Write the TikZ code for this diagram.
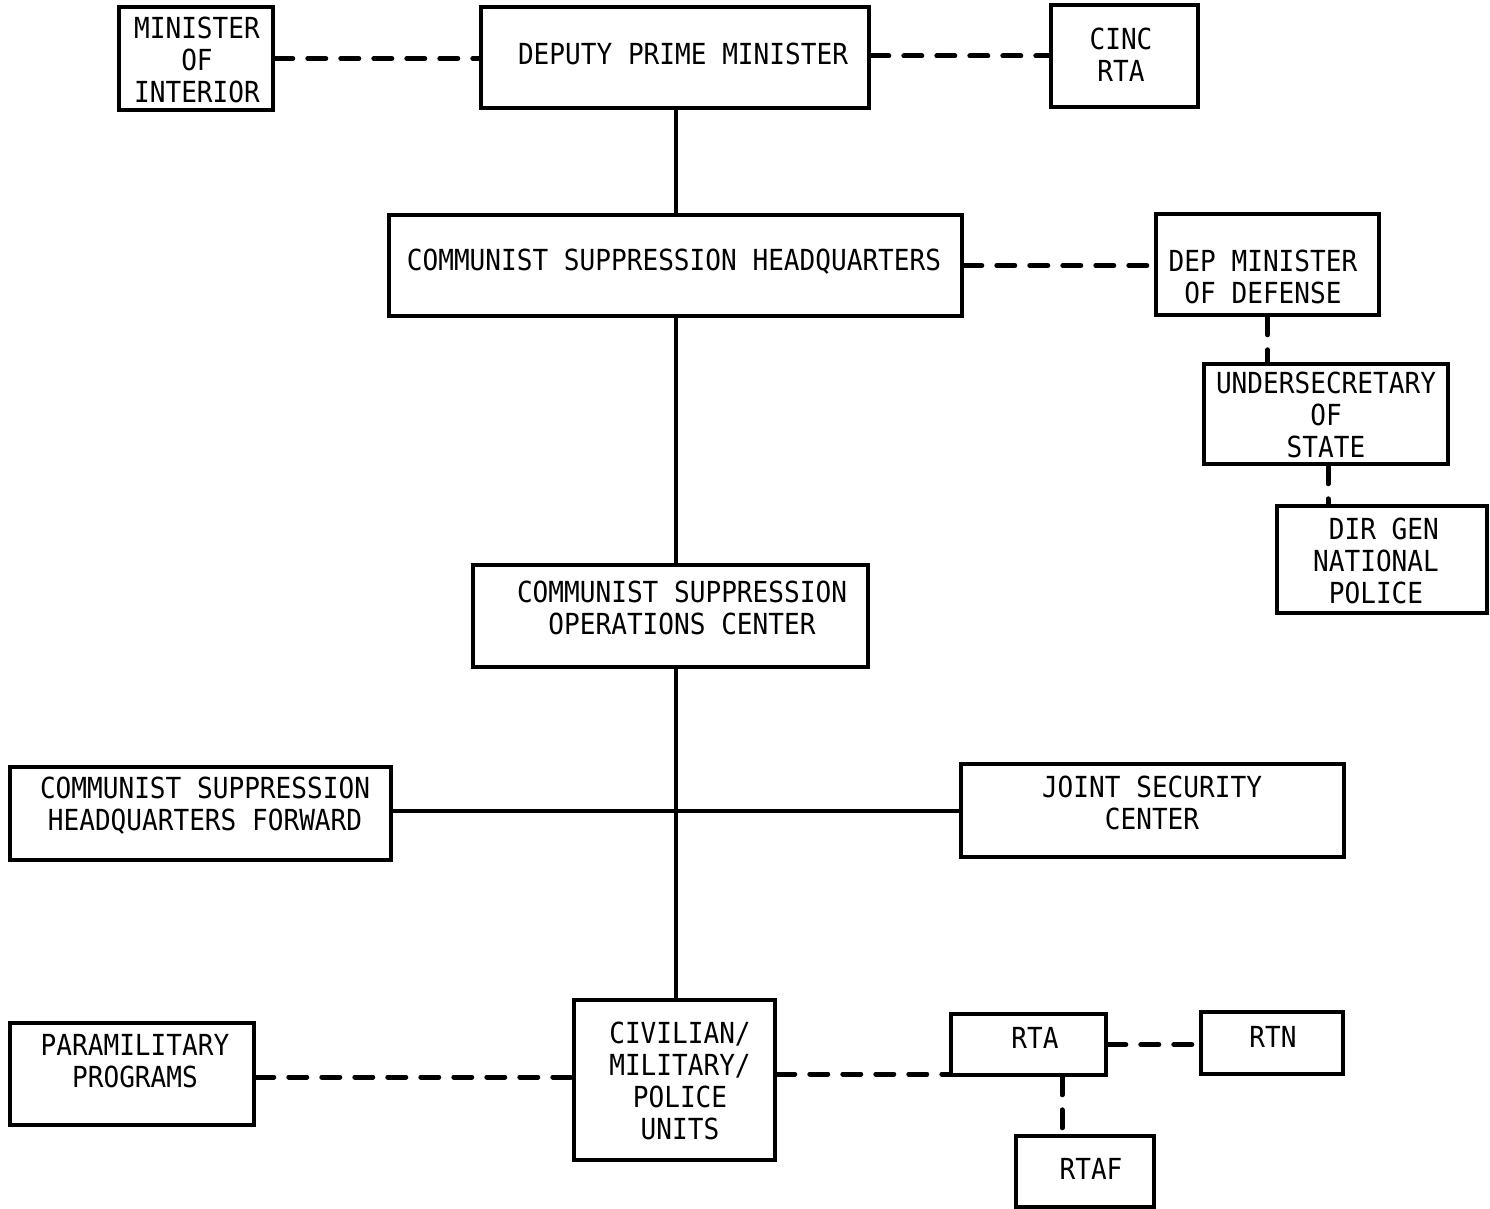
\documentclass[tikz,border=0pt]{standalone}
\usepackage{fontspec}
\newfontfamily\orgfont{DejaVu Sans Mono}[FakeStretch=0.9]
\begin{document}
\begin{tikzpicture}[x=1pt,y=-1pt,
  box/.style={draw=black,line width=3.6pt,inner sep=0pt,minimum width=#1},
  lbl/.style={inner sep=0pt,align=center,font=\orgfont\fontsize{29}{32}\selectfont},
  conn/.style={line width=4.5pt},
  dashline/.style={line width=5pt,line cap=round,dash pattern=on 18pt off 15pt}]
\useasboundingbox[fill=white] (0,0) rectangle (1490,1209);
% boxes (x-center,y-center), width, height
\node[box=154pt,minimum height=103pt] (moi) at (196,58.5) {};
\node[box=388pt,minimum height=101pt] (dpm) at (675,57.5) {};
\node[box=147pt,minimum height=102pt] (cinc) at (1124.5,56) {};
\node[box=573pt,minimum height=101pt] (cshq) at (675.5,265.5) {};
\node[box=223pt,minimum height=101pt] (dmod) at (1267.5,264.5) {};
\node[box=244pt,minimum height=100pt] (us) at (1326,414) {};
\node[box=210pt,minimum height=107pt] (dg) at (1382,559.5) {};
\node[box=395pt,minimum height=102pt] (csoc) at (670.5,616) {};
\node[box=381pt,minimum height=93pt] (cshqf) at (200.5,813.5) {};
\node[box=383pt,minimum height=93pt] (jsc) at (1152.5,810.5) {};
\node[box=244pt,minimum height=102pt] (pp) at (132,1074) {};
\node[box=201pt,minimum height=160pt] (cmp) at (674.5,1080) {};
\node[box=155pt,minimum height=61pt] (rta) at (1028.5,1044.5) {};
\node[box=142pt,minimum height=62pt] (rtn) at (1272,1043) {};
\node[box=138pt,minimum height=71pt] (rtaf) at (1085,1171.5) {};
% labels
\node[lbl] (moiT) at (197,59.5) {MINISTER\\OF\\INTERIOR};
\node[lbl] (dpmT) at (683,54) {DEPUTY PRIME MINISTER};
\node[lbl] (cincT) at (1121,55) {CINC\\RTA};
\node[lbl] (cshqT) at (674,262) {COMMUNIST SUPPRESSION HEADQUARTERS};
\node[lbl] (dmodT) at (1263,277) {DEP MINISTER\\OF DEFENSE};
\node[lbl] (usT) at (1326,415) {UNDERSECRETARY\\OF\\STATE};
\node[lbl] (dgT) at (1376,561) {\ DIR GEN\\NATIONAL\\POLICE};
\node[lbl] (csocT) at (682,608) {COMMUNIST SUPPRESSION\\OPERATIONS CENTER};
\node[lbl] (cshqfT) at (205,806) {COMMUNIST SUPPRESSION\\HEADQUARTERS FORWARD};
\node[lbl] (jscT) at (1152,803) {JOINT SECURITY\\CENTER};
\node[lbl] (ppT) at (135,1061) {PARAMILITARY\\PROGRAMS};
\node[lbl] (cmpT) at (680,1081) {CIVILIAN/\\MILITARY/\\POLICE\\UNITS};
\node[lbl] (rtaT) at (1035,1038) {RTA};
\node[lbl] (rtnT) at (1273,1037) {RTN};
\node[lbl] (rtafT) at (1091,1169) {RTAF};
% helper coordinates
\coordinate (hy) at (0,811);
\coordinate (py) at (0,1077);
\coordinate (cy) at (0,1074);
\coordinate (vx) at (1062,0);
\coordinate (mx) at (676,0);
\coordinate (gx) at (1328,0);
% connectors
\draw[dashline] (moi.east) -- (moi.east -| dpm.west);
\draw[dashline] (cinc.west -| dpm.east) -- (cinc.west);
\draw[conn] (dpm.south -| mx) -- (cshq.north -| mx);
\draw[dashline] (cshq.east) -- (cshq.east -| dmod.west);
\draw[conn] (cshq.south -| mx) -- (csoc.north -| mx);
\draw[dashline] (dmod.south) -- (dmod.south |- us.north);
\draw[dashline] (us.south -| gx) -- (dg.north -| gx);
\draw[conn] (csoc.south -| mx) -- (cmp.north -| mx);
\draw[conn] (cshqf.east |- hy) -- (jsc.west |- hy);
\draw[dashline] (pp.east |- py) -- (cmp.west |- py);
\draw[dashline] (cmp.east |- cy) -- (rta.west |- cy);
\draw[dashline] (rta.east) -- (rta.east -| rtn.west);
\draw[dashline] (rta.south -| vx) -- (rtaf.north -| vx);
\end{tikzpicture}
\end{document}
